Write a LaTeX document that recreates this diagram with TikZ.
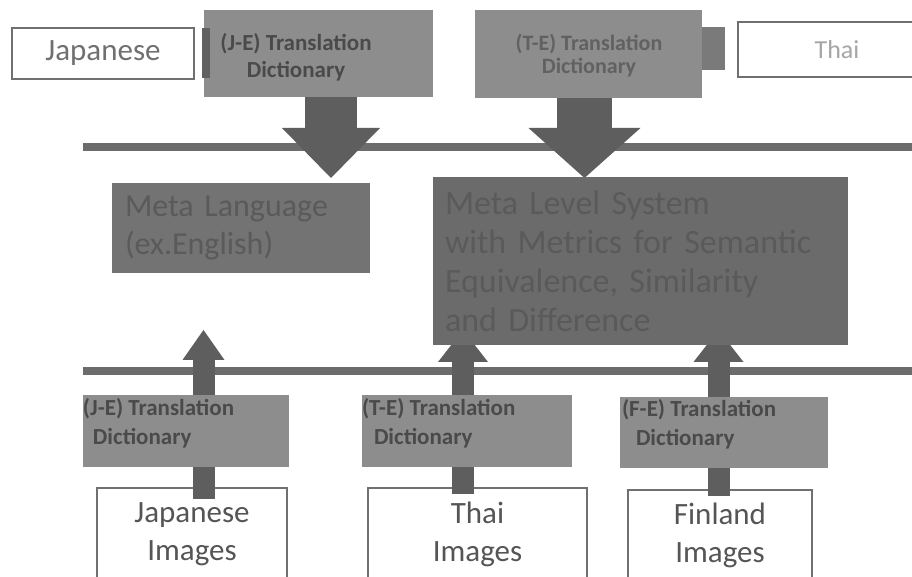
\documentclass[tikz,border=0pt]{standalone}
\usepackage{fontspec}
\setmainfont{Carlito}
\usetikzlibrary{arrows.meta,calc}
\pgfdeclarelayer{under}
\pgfdeclarelayer{arrowlayer}
\pgfsetlayers{under,arrowlayer,main}
\definecolor{dictgray}{HTML}{8D8D8D}
\definecolor{metagray}{HTML}{737373}
\definecolor{metagrayb}{HTML}{6B6B6B}
\definecolor{arrowgray}{HTML}{5E5E5E}
\definecolor{linegray}{HTML}{6C6C6C}
\definecolor{dicttext}{HTML}{4A4A4A}
\definecolor{metatext}{HTML}{5A5A5A}
\definecolor{boxline}{HTML}{707070}
\definecolor{imgtext}{HTML}{555555}
\begin{document}
\begin{tikzpicture}[x=0.5pt,y=-0.5pt,
  every node/.style={inner sep=0pt,outer sep=0pt},
  dictbox/.style={fill=dictgray,draw=none},
  dictlabel/.style={text=dicttext,font=\bfseries\fontsize{11.5}{13.5}\selectfont,align=center},
  dictlabelb/.style={text=dicttext,font=\bfseries\fontsize{11.5}{14.5}\selectfont,align=left,anchor=west},
  whitebox/.style={fill=white,draw=boxline,line width=1pt},
  metabox/.style={fill=metagray,text=metatext,align=left},
  hline/.style={draw=linegray,line width=4pt},
  bigarrow/.style={draw=arrowgray,line width=26pt,-{Triangle[width=49pt,length=25pt,line width=0pt]}},
  smallarrow/.style={draw=arrowgray,line width=11pt,-{Triangle[width=25pt,length=16pt,line width=0pt]}}]
\path[use as bounding box] (0,0) rectangle (912,577);
\begin{pgfonlayer}{under}
  \fill[white] (0,0) rectangle (912,577);
  \coordinate (la) at (83,147);
  \coordinate (lb) at (920,147);
  \coordinate (lc) at (83,371);
  \coordinate (ld) at (920,371);
  \draw[hline] (la) -- (lb);
  \draw[hline] (lc) -- (ld);
  % image boxes
  \node[whitebox,minimum width=95pt,minimum height=46pt,text=imgtext,align=center,
        font=\fontsize{15.5}{19}\selectfont] (jimg) at (192,534) {Japanese\\Images};
  \node[whitebox,minimum width=109.5pt,minimum height=46pt,text=imgtext,align=center,
        font=\fontsize{15.5}{19}\selectfont] (timg) at (477.5,534) {Thai\\Images};
  \node[whitebox,minimum width=92pt,minimum height=45pt,text=imgtext,align=center,
        font=\fontsize{15.5}{19}\selectfont] (fimg) at (720,535) {Finland\\Images};
\end{pgfonlayer}

% top row
\node[whitebox,minimum width=91pt,minimum height=25.5pt,text=boxline,
      font=\fontsize{15.5}{18}\selectfont] (jap) at (103,53.5) {Japanese};
\node[whitebox,minimum width=99pt,minimum height=27.5pt,text=black!35,
      font=\fontsize{13}{16}\selectfont] (thai) at (837,49.5) {Thai};
\node[dictbox,minimum width=114.5pt,minimum height=43.5pt] (jetop) at (318.5,53.5) {};
\node[fill=black!62,minimum width=4pt,minimum height=25pt] (jetab) at (206,53) {};
\node[dictlabel] (jetopt) at (296,57) {(J-E) Translation\\Dictionary};
\node[dictbox,minimum width=113.5pt,minimum height=44pt] (tetop) at (588.5,54) {};
\node[fill=black!52,minimum width=11.5pt,minimum height=21.5pt] (tetab) at (713.5,48.5) {};
\node[text=black!62,font=\bfseries\fontsize{11}{11.5}\selectfont,align=center] (tetopt) at (589,56) {(T-E) Translation\\Dictionary};

% meta boxes
\node[metabox,minimum width=129pt,minimum height=45pt,text width=116pt,
      font=\fontsize{16}{19}\selectfont] (metalang) at (241,228) {Meta Language\\(ex.English)};
\node[metabox,fill=metagrayb,minimum width=207.5pt,minimum height=84pt,text width=195.5pt,
      font=\fontsize{17}{19.5}\selectfont] (metalevel) at (640.5,261) {Meta Level System\\with Metrics for Semantic\\Equivalence, Similarity\\and Difference};

% bottom dictionaries
\node[dictbox,minimum width=103pt,minimum height=36pt] (jebot) at (186,431) {};
\node[dictlabelb] (jebott) at (83,423.5) {(J-E) Translation\\\hspace*{5pt}Dictionary};
\node[dictbox,minimum width=105pt,minimum height=36pt] (tebot) at (467,431) {};
\node[dictlabelb] (tebott) at (362,423.5) {(T-E) Translation\\\hspace*{6pt}Dictionary};
\node[dictbox,minimum width=104pt,minimum height=35.5pt] (febot) at (724,432.5) {};
\node[dictlabelb] (febott) at (622,424) {(F-E) Translation\\\hspace*{7pt}Dictionary};

\begin{pgfonlayer}{arrowlayer}
  \draw[bigarrow] ($(jetop.south)+(12.5,0)$) -- ($(jetop.south |- metalang.north)+(12.5,-5)$);
  \draw[bigarrow,-{Triangle[width=56pt,length=25pt,line width=0pt]},line width=27.5pt]
     ($(tetop.south)+(-4,0)$) -- ($(tetop.south |- metalevel.north)+(-4,1)$);
  \draw[smallarrow,-{Triangle[width=21pt,length=15pt,line width=0pt]}]
     ($(jimg.north)+(11.5,11)$) -- ($(metalang.south)+(-37.5,57)$);
  \draw[smallarrow] ($(timg.north)+(-14.5,6)$) -- ($(timg.north |- metalevel.south)+(-14.5,-15)$);
  \draw[smallarrow] ($(fimg.north)+(-1.5,6)$) -- ($(fimg.north |- metalevel.south)+(-1.5,-15)$);
\end{pgfonlayer}
\end{tikzpicture}
\end{document}
